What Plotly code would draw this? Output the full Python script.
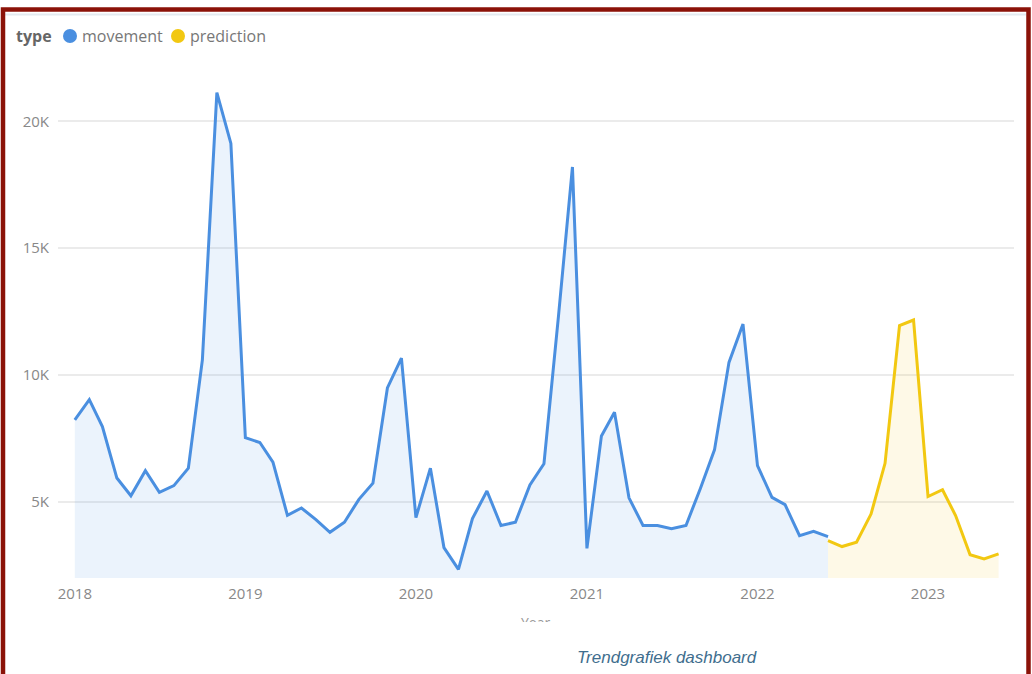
import plotly.graph_objects as go
import pandas as pd

# ---- data ----
movement_months = pd.date_range("2018-01-01", "2022-06-01", freq="MS").strftime("%Y-%m-%d").tolist()
movement_values = [
    8230, 9030, 7970, 5940, 5240, 6230, 5380, 5640, 6330, 10600, 21130, 19130,
    7530, 7340, 6570, 4470, 4760, 4300, 3800, 4200, 5100, 5740, 9490, 10670,
    4380, 6330, 3200, 2340, 4340, 5430, 4070, 4200, 5670, 6500, 12300, 18200,
    3170, 7600, 8530, 5160, 4070, 4070, 3940, 4070, 5540, 7050, 10500, 12010,
    6430, 5180, 4890, 3670, 3840, 3630,
]
prediction_months = pd.date_range("2022-06-01", "2023-06-01", freq="MS").strftime("%Y-%m-%d").tolist()
prediction_values = [3470, 3240, 3410, 4520, 6520, 11950, 12170, 5210, 5480, 4460, 2920, 2750, 2950]

series_names = ["movement", "prediction"]
y_tickvals = [5000, 10000, 15000, 20000]
y_ticktext = ["5K", "10K", "15K", "20K"]
x_tickvals = ["2018-01-01", "2019-01-01", "2020-01-01", "2021-01-01", "2022-01-01", "2023-01-01"]
x_ticktext = ["2018", "2019", "2020", "2021", "2022", "2023"]

# ---- styling ----
W, H = 1032, 674
ML, MR, MT, MB = 58, 18, 65, 96
PW, PH = W - ML - MR, H - MT - MB
BLUE = "#4A8FE0"
YELLOW = "#F2C811"
COLORS = [BLUE, YELLOW]


def px_x(px):
    return (px - ML) / PW


def px_y(py):
    return (H - MB - py) / PH


fig = go.Figure()
fig.add_trace(go.Scatter(
    x=movement_months, y=movement_values, mode="lines", name=series_names[0],
    line=dict(color=BLUE, width=3), fill="tozeroy",
    fillcolor="rgba(74,143,224,0.11)", showlegend=False,
))
fig.add_trace(go.Scatter(
    x=prediction_months, y=prediction_values, mode="lines", name=series_names[1],
    line=dict(color=YELLOW, width=3), fill="tozeroy",
    fillcolor="rgba(242,200,17,0.10)", showlegend=False,
))

# manual legend (Power BI style: title + dots)
legend_y = 36
legend_dots = [70, 178]
annotations = [
    dict(text="<b>type</b>", xref="paper", yref="paper", x=px_x(14), y=px_y(legend_y),
         xanchor="left", yanchor="middle", showarrow=False,
         font=dict(size=16, color="#666666")),
]
shapes = []
for name, color, cx in zip(series_names, COLORS, legend_dots):
    shapes.append(dict(type="circle", xref="paper", yref="paper",
                       x0=px_x(cx - 7), x1=px_x(cx + 7),
                       y0=px_y(legend_y + 7), y1=px_y(legend_y - 7),
                       fillcolor=color, line=dict(width=0)))
    annotations.append(dict(text=name, xref="paper", yref="paper", x=px_x(cx + 10),
                            y=px_y(legend_y), xanchor="left", yanchor="middle",
                            showarrow=False, font=dict(size=16, color="#777777")))

annotations += [
    dict(text="Year", xref="paper", yref="paper", x=px_x(535), y=px_y(611),
         xanchor="center", yanchor="top", showarrow=False,
         font=dict(size=14, color="#999999")),
    dict(text=" ", xref="paper", yref="paper", x=px_x(535), y=px_y(622),
         xanchor="center", yanchor="top", showarrow=False, bgcolor="white",
         width=70, height=22, borderpad=0, borderwidth=0),
    dict(text="<i>Trendgrafiek dashboard</i>", xref="paper", yref="paper",
         x=px_x(667), y=px_y(657), xanchor="center", yanchor="middle",
         showarrow=False,
         font=dict(family="Liberation Sans", size=17, color="#3F6E8E")),
]

shapes += [
    dict(type="line", xref="paper", yref="paper",
         x0=px_x(5), x1=px_x(1026), y0=px_y(14.5), y1=px_y(14.5),
         line=dict(color="#E4EAF0", width=2)),
    dict(type="rect", xref="paper", yref="paper",
         x0=px_x(3), x1=px_x(1028.5), y0=px_y(700), y1=px_y(9.5),
         line=dict(color="#8B1208", width=4.5), fillcolor="rgba(0,0,0,0)"),
]

fig.update_layout(
    width=W, height=H,
    margin=dict(l=ML, r=MR, t=MT, b=MB),
    paper_bgcolor="white", plot_bgcolor="white",
    font=dict(family="Open Sans", color="#777777", size=13),
    showlegend=False,
    xaxis=dict(
        type="date",
        range=["2017-11-26", "2023-07-04"],
        tickvals=x_tickvals, ticktext=x_ticktext,
        showgrid=False, zeroline=False, showline=False,
        tickfont=dict(size=15, color="#888888"),
        ticklabelstandoff=5,
    ),
    yaxis=dict(
        range=[2000, 22221],
        tickvals=y_tickvals, ticktext=y_ticktext,
        showgrid=True, gridcolor="#EBEBEB", gridwidth=1.5,
        zeroline=False, showline=False,
        tickfont=dict(size=15, color="#888888"),
        ticklabelstandoff=8,
    ),
    annotations=annotations,
    shapes=shapes,
)

fig.write_html("out.html", config=dict(displayModeBar=False),
               post_script="document.body.style.margin='0';")
